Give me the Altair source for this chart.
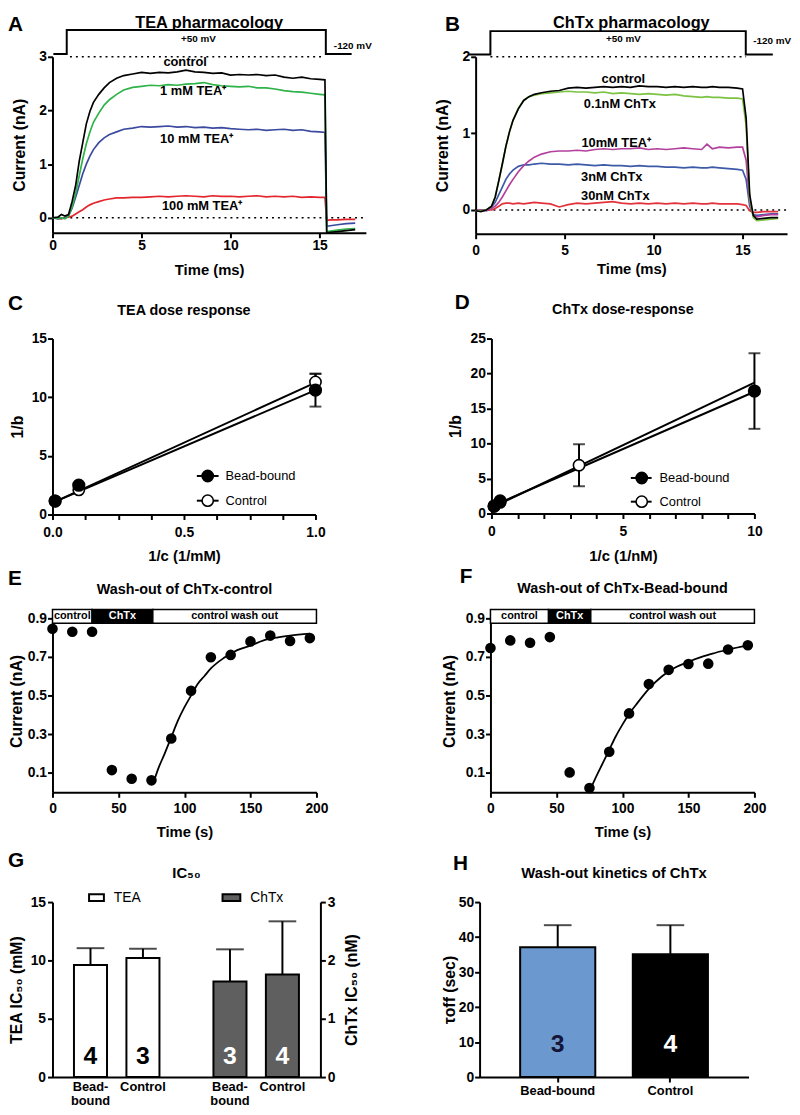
import altair as alt
import pandas as pd

FONT = "Liberation Sans"

# ---------------- Panel A : TEA pharmacology ----------------
a_time = [0, 0.3, 0.5, 0.7, 0.9, 1.1, 1.3, 1.5, 1.7, 1.9, 2.1, 2.3, 2.6, 2.9, 3.2, 3.6, 4.0, 4.5,
          5.0, 5.5, 6.0, 6.5, 7.0, 7.5, 8.0, 8.5, 9.0, 9.5, 10.0, 10.5, 11.0, 11.5, 12.0, 12.5,
          13.0, 13.5, 14.0, 14.5, 15.0, 15.3, 15.4, 15.6, 16.0, 16.5, 17.0]
a_control = [0.0, 0.01, 0.06, 0.03, 0.06, 0.3, 0.6, 1.05, 1.4, 1.75, 1.98, 2.15, 2.3, 2.42, 2.52,
             2.6, 2.65, 2.68, 2.71, 2.69, 2.71, 2.7, 2.72, 2.75, 2.72, 2.71, 2.69, 2.7, 2.66, 2.67,
             2.66, 2.67, 2.65, 2.66, 2.62, 2.6, 2.62, 2.59, 2.58, 2.57, -0.28, -0.27, -0.26, -0.24, -0.22]
a_tea1 = [0.0, -0.01, 0.0, -0.02, 0.03, 0.2, 0.45, 0.78, 1.1, 1.38, 1.6, 1.78, 1.95, 2.1, 2.2,
          2.3, 2.38, 2.43, 2.45, 2.47, 2.46, 2.48, 2.47, 2.49, 2.5, 2.52, 2.48, 2.46, 2.45, 2.44,
          2.45, 2.42, 2.42, 2.4, 2.37, 2.35, 2.34, 2.32, 2.3, 2.29, -0.26, -0.25, -0.23, -0.21, -0.2]
a_tea10 = [0.0, -0.02, -0.01, -0.01, 0.04, 0.18, 0.38, 0.6, 0.82, 1.0, 1.15, 1.27, 1.4, 1.49, 1.55,
           1.6, 1.65, 1.67, 1.7, 1.69, 1.7, 1.71, 1.69, 1.7, 1.68, 1.69, 1.67, 1.68, 1.66, 1.65,
           1.64, 1.65, 1.63, 1.64, 1.65, 1.63, 1.64, 1.61, 1.6, 1.59, -0.16, -0.15, -0.13, -0.11, -0.1]
a_tea100 = [0.0, -0.01, -0.02, 0.0, 0.01, 0.03, 0.07, 0.11, 0.15, 0.2, 0.24, 0.27, 0.3, 0.33, 0.35,
            0.37, 0.37, 0.38, 0.38, 0.39, 0.4, 0.39, 0.4, 0.41, 0.4, 0.39, 0.41, 0.4, 0.4, 0.39,
            0.4, 0.41, 0.39, 0.4, 0.39, 0.4, 0.38, 0.39, 0.38, 0.38, -0.05, -0.04, -0.04, -0.03, -0.03]
a_names = ["100 mM TEA⁺", "10 mM TEA⁺", "1 mM TEA⁺", "control"]
a_colors = ["#e3262d", "#3b4a9e", "#2fb24a", "#000000"]
a_label_t = [8.4, 8.1, 7.9, 7.45]
a_label_i = [0.21, 1.47, 2.37, 2.9]
a_step_t = [0.05, 0.8, 0.8, 15.35, 15.35, 16.8]
a_step_v = [3.05, 3.05, 3.5, 3.5, 3.05, 3.05]
a_hold_t = [0.98, 15.2]

# ---------------- Panel B : ChTx pharmacology ----------------
b_time = [0, 0.3, 0.6, 0.9, 1.1, 1.3, 1.5, 1.7, 1.9, 2.1, 2.4, 2.7, 3.0, 3.3, 3.7, 4.2, 4.7, 5.2,
          5.7, 6.2, 6.7, 7.2, 7.7, 8.2, 8.7, 9.2, 9.7, 10.2, 10.7, 11.2, 11.7, 12.2, 12.7, 13.0,
          13.3, 13.7, 14.2, 14.7, 15.0, 15.2, 15.4, 15.6, 15.8, 16.2, 16.6, 17.0]
b_control = [-0.01, -0.02, 0.0, 0.05, 0.17, 0.38, 0.6, 0.83, 1.02, 1.17, 1.32, 1.43, 1.48, 1.51,
             1.53, 1.55, 1.56, 1.59, 1.6, 1.59, 1.6, 1.61, 1.6, 1.61, 1.6, 1.62, 1.61, 1.61, 1.6,
             1.61, 1.6, 1.61, 1.6, 1.6, 1.61, 1.6, 1.6, 1.59, 1.58, 1.2, 0.2, -0.07, -0.12, -0.11,
             -0.1, -0.1]
b_chtx01 = [-0.01, -0.01, 0.0, 0.05, 0.17, 0.38, 0.6, 0.83, 1.02, 1.17, 1.33, 1.43, 1.48, 1.5,
            1.52, 1.53, 1.54, 1.55, 1.54, 1.54, 1.53, 1.54, 1.52, 1.53, 1.52, 1.51, 1.52, 1.51,
            1.5, 1.51, 1.49, 1.48, 1.47, 1.48, 1.47, 1.47, 1.46, 1.46, 1.45, 1.1, 0.15, -0.1,
            -0.14, -0.13, -0.12, -0.11]
b_tea10 = [-0.01, 0.0, -0.01, 0.02, 0.05, 0.1, 0.17, 0.25, 0.33, 0.4, 0.5, 0.58, 0.64, 0.69,
           0.73, 0.76, 0.77, 0.77, 0.78, 0.77, 0.79, 0.8, 0.79, 0.8, 0.8, 0.81, 0.79, 0.8, 0.79,
           0.8, 0.81, 0.8, 0.79, 0.86, 0.8, 0.82, 0.81, 0.82, 0.82, 0.65, 0.1, -0.07, -0.09,
           -0.07, -0.06, -0.06]
b_chtx3 = [-0.01, 0.0, 0.0, 0.04, 0.1, 0.2, 0.3, 0.4, 0.47, 0.52, 0.57, 0.59, 0.59, 0.6, 0.61,
           0.6, 0.6, 0.59, 0.6, 0.59, 0.58, 0.59, 0.58, 0.58, 0.57, 0.58, 0.57, 0.57, 0.56, 0.56,
           0.55, 0.56, 0.55, 0.55, 0.56, 0.55, 0.54, 0.53, 0.52, 0.4, 0.05, -0.06, -0.07, -0.06,
           -0.05, -0.05]
b_chtx30 = [-0.01, 0.0, 0.0, 0.0, 0.02, 0.05, 0.08, 0.09, 0.09, 0.08, 0.09, 0.08, 0.09, 0.1,
            0.09, 0.08, 0.04, 0.07, 0.09, 0.08, 0.09, 0.1, 0.11, 0.09, 0.08, 0.09, 0.08, 0.09,
            0.08, 0.09, 0.08, 0.09, 0.08, 0.08, 0.09, 0.08, 0.08, 0.08, 0.07, 0.06, -0.01, -0.03,
            -0.03, -0.02, -0.02, -0.02]
b_names = ["30nM ChTx", "3nM ChTx", "10mM TEA⁺", "0.1nM ChTx", "control"]
b_colors = ["#e2323c", "#3d5aa8", "#b2409c", "#7cc243", "#000000"]
b_label_t = [7.85, 7.65, 7.9, 8.1, 8.3]
b_label_i = [0.18, 0.43, 0.88, 1.38, 1.71]
b_step_t = [-0.37, 0.83, 0.83, 15.18, 15.18, 16.7]
b_step_v = [2.03, 2.03, 2.335, 2.335, 2.03, 2.03]
b_hold_t = [0.83, 15.2]

# ---------------- Panel C : TEA dose response ----------------
c_x = [0.01, 0.1, 1.0]
c_bead = [1.15, 2.5, 10.6]
c_bead_err = [0.0, 0.0, 1.4]
c_ctrl = [1.15, 2.1, 11.3]
c_ctrl_err = [0.0, 0.0, 0.7]
c_fit_x = [0.01, 1.0]
c_fit_bead = [1.1, 10.6]
c_fit_ctrl = [1.1, 11.25]

# ---------------- Panel D : ChTx dose-response ----------------
d_x_bead = [0.1, 0.33, 10.0]
d_bead = [1.1, 1.8, 17.5]
d_bead_err = [0.0, 0.0, 5.4]
d_x_ctrl = [0.1, 0.33, 3.33]
d_ctrl = [1.0, 1.6, 6.9]
d_ctrl_err = [0.0, 0.0, 3.0]
d_fit_x = [0.1, 10.0]
d_fit_bead = [1.2, 17.4]
d_fit_ctrl = [1.0, 18.7]

# ---------------- Panel E/F : wash-out ----------------
w_time = [0, 15, 30, 45, 60, 75, 90, 105, 120, 135, 150, 165, 180, 195]
e_curr = [0.845, 0.83, 0.83, 0.115, 0.07, 0.062, 0.278, 0.525, 0.698, 0.71, 0.78, 0.81, 0.782, 0.797]
e_fit_t = [77, 80, 85, 90, 95, 100, 105, 110, 115, 120, 130, 140, 150, 160, 170, 180, 195]
e_fit_v = [0.06, 0.12, 0.2, 0.285, 0.37, 0.44, 0.5, 0.56, 0.6, 0.64, 0.695, 0.735, 0.758, 0.785, 0.8, 0.81, 0.82]
e_phase_start = [0, 30, 76]
e_phase_end = [30, 76, 200]
f_curr = [0.746, 0.785, 0.773, 0.802, 0.103, 0.022, 0.21, 0.408, 0.56, 0.633, 0.663, 0.665, 0.738, 0.76]
f_fit_t = [76, 80, 85, 90, 95, 100, 105, 110, 120, 130, 140, 150, 160, 170, 180, 195]
f_fit_v = [0.02, 0.08, 0.15, 0.22, 0.29, 0.35, 0.405, 0.45, 0.535, 0.6, 0.645, 0.675, 0.7, 0.72, 0.738, 0.758]
f_phase_start = [0, 44, 76]
f_phase_end = [44, 76, 200]
phase_labels = ["control", "ChTx", "control wash out"]
phase_fill = ["white", "black", "white"]
phase_text = ["black", "white", "black"]

# ---------------- Panel G : IC50 ----------------
g_conds = ["Bead-bound", "Control"]
g_xlabels = ["Bead-\nbound", "Control"]
g_tea_mean = [9.6, 10.2]
g_tea_err = [1.45, 0.8]
g_tea_n = [4, 3]
g_chtx_mean = [1.64, 1.76]
g_chtx_err = [0.55, 0.91]
g_chtx_n = [3, 4]

# ---------------- Panel H : wash-out kinetics ----------------
h_conds = ["Bead-bound", "Control"]
h_mean = [37.1, 35.1]
h_err = [6.3, 8.3]
h_n = [3, 4]
h_colors = ["#6a98cf", "#000000"]
h_ncolors = ["#15153a", "#ffffff"]


# ======================= helpers =======================
def one():
    return alt.Data(values=[{"k": 0}])


def txt(s, x, y, size, weight="bold", align="center", baseline="middle", color="black"):
    return alt.Chart(one()).mark_text(
        text=s, font=FONT, fontSize=size, fontWeight=weight, align=align,
        baseline=baseline, color=color).encode(x=alt.value(x), y=alt.value(y))


LET_X = -45


def letter(ch, y):
    return txt(ch, LET_X, y, 21, align="left")


def xaxis(values, title, w, ty, lp, label_expr=None, fmt=None):
    d = dict(values=values, title=title, titleX=w / 2, titleY=ty, titleAlign="center",
             titleBaseline="middle", titleFontSize=15, labelFlush=False, labelOverlap=False,
             labelPadding=lp)
    if label_expr:
        d["labelExpr"] = label_expr
    if fmt:
        d["format"] = fmt
    return alt.Axis(**d)


def yaxis(values, title, h, tx, lp=1, fmt=None, orient="left"):
    d = dict(values=values, title=title, titleX=tx, titleY=h / 2, titleAngle=270,
             titleAlign="center", titleBaseline="middle", titleFontSize=16, labelFlush=False,
             labelOverlap=False, labelPadding=lp, orient=orient)
    if fmt:
        d["format"] = fmt
    return alt.Axis(**d)


def traces_panel(time, series, names, colors, lab_t, lab_i, step_t, step_v, hold_t,
                 xs, ys, ax, ay, hold_v):
    X = lambda f: alt.X(f, scale=xs, axis=ax)
    Y = lambda f: alt.Y(f, scale=ys, axis=ay)
    layers = []
    zero = pd.DataFrame({"t": [0.0], "t2": [xs.domain[1]], "v": [0.0]})
    layers.append(alt.Chart(zero).mark_rule(color="black", strokeWidth=1.6, strokeDash=[2, 4])
                  .encode(x=X("t:Q"), x2="t2:Q", y=Y("v:Q")))
    hold = pd.DataFrame({"t": [hold_t[0]], "t2": [hold_t[1]], "v": [hold_v]})
    layers.append(alt.Chart(hold).mark_rule(color="black", strokeWidth=1.6, strokeDash=[2, 4])
                  .encode(x=X("t:Q"), x2="t2:Q", y=Y("v:Q")))
    step = pd.DataFrame({"t": step_t, "v": step_v, "k": list(range(len(step_t)))})
    layers.append(alt.Chart(step).mark_line(color="black", strokeWidth=2)
                  .encode(x=X("t:Q"), y=Y("v:Q"), order="k:Q"))
    for name, col, vals in zip(names, colors, series):
        df = pd.DataFrame({"t": time, "v": vals})
        layers.append(alt.Chart(df).mark_line(color=col, strokeWidth=1.7)
                      .encode(x=X("t:Q"), y=Y("v:Q")))
    lab = pd.DataFrame({"t": lab_t, "v": lab_i, "name": names})
    layers.append(alt.Chart(lab).mark_text(font=FONT, fontSize=13, fontWeight="bold", color="black")
                  .encode(x=X("t:Q"), y=Y("v:Q"), text="name:N"))
    return layers


def step_labels(xs, ys, ax, ay, t, v):
    df = pd.DataFrame({"t": t, "v": v, "s": ["+50 mV", "-120 mV"]})
    X = alt.X("t:Q", scale=xs, axis=ax)
    Y = alt.Y("v:Q", scale=ys, axis=ay)
    return [
        alt.Chart(df).transform_filter("datum.s == '+50 mV'")
        .mark_text(font=FONT, fontSize=10, fontWeight="bold").encode(x=X, y=Y, text="s:N"),
        alt.Chart(df).transform_filter("datum.s == '-120 mV'")
        .mark_text(font=FONT, fontSize=10, fontWeight="bold", align="left").encode(x=X, y=Y, text="s:N"),
    ]


# ======================= Panel A =======================
WA, HA = 317, 178
xsA = alt.Scale(domain=[0, 17.6], nice=False, zero=False)
ysA = alt.Scale(domain=[-0.28, 3], nice=False, zero=False)
axA = xaxis([0, 5, 10, 15], "Time (ms)", WA, 37, 1)
ayA = yaxis([0, 1, 2, 3], "Current (nA)", HA, -33)
A_layers = traces_panel(a_time, [a_tea100, a_tea10, a_tea1, a_control], a_names, a_colors,
                        a_label_t, a_label_i, a_step_t, a_step_v, a_hold_t, xsA, ysA, axA, ayA, 3.0)
A_layers += step_labels(xsA, ysA, axA, ayA, [8.2, 15.8], [3.33, 3.2])
A_layers += [letter("A", -32), txt("TEA pharmacology", WA / 2, -34, 16.5)]
panelA = alt.layer(*A_layers).properties(width=WA, height=HA)

# ======================= Panel B =======================
WB, HB = 315, 179
xsB = alt.Scale(domain=[0, 17.5], nice=False, zero=False)
ysB = alt.Scale(domain=[-0.31, 2], nice=False, zero=False)
axB = xaxis([0, 5, 10, 15], "Time (ms)", WB, 35, 5)
ayB = yaxis([0, 1, 2], "Current (nA)", HB, -33)
B_layers = traces_panel(b_time, [b_chtx30, b_chtx3, b_tea10, b_chtx01, b_control], b_names, b_colors,
                        b_label_t, b_label_i, b_step_t, b_step_v, b_hold_t, xsB, ysB, axB, ayB, 2.0)
B_layers += step_labels(xsB, ysB, axB, ayB, [8.3, 15.6], [2.23, 2.2])
B_layers += [txt("B", -31, -32, 21, align="left"), txt("ChTx pharmacology", WB / 2, -34, 16.5)]
panelB = alt.layer(*B_layers).properties(width=WB, height=HB)


# ======================= dose-response helper =======================
def dose_panel(xb, yb, eb, xc, yc, ec, fx, fb, fc, xs, ys, ax, ay, leg):
    X = lambda f: alt.X(f, scale=xs, axis=ax)
    Y = lambda f: alt.Y(f, scale=ys, axis=ay)
    L = []
    fit = pd.DataFrame({"x": fx * 2, "y": fb + fc, "g": ["b", "b", "c", "c"]})
    L.append(alt.Chart(fit).mark_line(color="black", strokeWidth=2)
             .encode(x=X("x:Q"), y=Y("y:Q"), detail="g:N"))
    err = pd.DataFrame({"x": xb + xc, "y": yb + yc, "e": eb + ec})
    err = err[err["e"] > 0]
    L.append(alt.Chart(err).transform_calculate(lo="datum.y - datum.e", hi="datum.y + datum.e")
             .mark_rule(color="black", strokeWidth=2)
             .encode(x=X("x:Q"), y=Y("lo:Q"), y2="hi:Q"))
    for fld in ["lo", "hi"]:
        L.append(alt.Chart(err).transform_calculate(lo="datum.y - datum.e", hi="datum.y + datum.e")
                 .mark_tick(color="black", orient="horizontal", size=12, thickness=2)
                 .encode(x=X("x:Q"), y=Y(fld + ":Q")))
    L.append(alt.Chart(pd.DataFrame({"x": xc, "y": yc})).mark_point(
        shape="circle", size=130, fill="white", filled=True, stroke="black", strokeWidth=1.6, opacity=1)
        .encode(x=X("x:Q"), y=Y("y:Q")))
    L.append(alt.Chart(pd.DataFrame({"x": xb, "y": yb})).mark_point(
        shape="circle", size=130, fill="black", filled=True, stroke="black", opacity=1)
        .encode(x=X("x:Q"), y=Y("y:Q")))
    cx, x0, x1, tx, yb_, yc_ = leg
    for yy, filled, lab in [(yb_, True, "Bead-bound"), (yc_, False, "Control")]:
        L.append(alt.Chart(one()).mark_rule(color="black", strokeWidth=2)
                 .encode(x=alt.value(x0), x2=alt.value(x1), y=alt.value(yy)))
        L.append(alt.Chart(one()).mark_point(shape="circle", size=130, filled=True,
                                             fill="black" if filled else "white", stroke="black",
                                             strokeWidth=1.6, opacity=1)
                 .encode(x=alt.value(cx), y=alt.value(yy)))
        L.append(txt(lab, tx, yy, 13, weight="normal", align="left"))
    return L


# ======================= Panel C =======================
WC, HC = 266, 178
xsC = alt.Scale(domain=[0, 1], nice=False, zero=False)
ysC = alt.Scale(domain=[0, 15], nice=False, zero=False)
c_ticks = [0, 0.125, 0.25, 0.375, 0.5, 0.625, 0.75, 0.875, 1.0]
axC = xaxis(c_ticks, "1/c (1/mM)", WC, 42, 6,
            label_expr="(datum.value * 2) % 1 === 0 ? format(datum.value, '.1f') : ''")
ayC = yaxis([0, 5, 10, 15], "1/b", HC, -35)
C_layers = dose_panel(c_x, c_bead, c_bead_err, c_x, c_ctrl, c_ctrl_err, c_fit_x, c_fit_bead,
                      c_fit_ctrl, xsC, ysC, axC, ayC, (157, 146, 168, 175, 139, 164))
C_layers += [letter("C", -34.5), txt("TEA dose response", WC / 2, -27.5, 14.5)]
panelC = alt.layer(*C_layers).properties(width=WC, height=HC)

# ======================= Panel D =======================
WD, HD = 266, 177
xsD = alt.Scale(domain=[0, 10], nice=False, zero=False)
ysD = alt.Scale(domain=[0, 25], nice=False, zero=False)
axD = xaxis(list(range(11)), "1/c (1/nM)", WD, 42, 6,
            label_expr="datum.value % 5 === 0 ? datum.label : ''")
ayD = yaxis([0, 5, 10, 15, 20, 25], "1/b", HD, -36)
D_layers = dose_panel(d_x_bead, d_bead, d_bead_err, d_x_ctrl, d_ctrl, d_ctrl_err, d_fit_x,
                      d_fit_bead, d_fit_ctrl, xsD, ysD, axD, ayD, (152, 141, 162, 170, 141, 165))
D_layers += [txt("D", -37, -35.5, 21, align="left"), txt("ChTx dose-response", WD / 2, -28.5, 14.5)]
panelD = alt.layer(*D_layers).properties(width=WD, height=HD)


# ======================= wash-out helper =======================
def wash_panel(curr, fit_t, fit_v, p0, p1, ax, ay, xs, ys):
    X = lambda f: alt.X(f, scale=xs, axis=ax)
    Y = lambda f: alt.Y(f, scale=ys, axis=ay)
    L = []
    ph = pd.DataFrame({"s": p0, "e": p1, "lab": phase_labels, "fill": phase_fill, "tc": phase_text})
    L.append(alt.Chart(ph).mark_rect(stroke="black", strokeWidth=1.5)
             .encode(x=X("s:Q"), x2="e:Q", y=alt.value(0), y2=alt.value(14),
                     fill=alt.Fill("fill:N", scale=None)))
    L.append(alt.Chart(ph).transform_calculate(m="(datum.s + datum.e) / 2")
             .mark_text(font=FONT, fontSize=11, fontWeight="bold")
             .encode(x=X("m:Q"), y=alt.value(7), text="lab:N", color=alt.Color("tc:N", scale=None)))
    L.append(alt.Chart(pd.DataFrame({"t": fit_t, "v": fit_v})).mark_line(
        color="black", strokeWidth=1.8, interpolate="monotone").encode(x=X("t:Q"), y=Y("v:Q")))
    L.append(alt.Chart(pd.DataFrame({"t": w_time, "v": curr})).mark_circle(
        size=115, color="black", opacity=1).encode(x=X("t:Q"), y=Y("v:Q")))
    return L


# ======================= Panel E =======================
WE, HE = 267, 185
xsE = alt.Scale(domain=[0, 200], nice=False, zero=False)
ysE = alt.Scale(domain=[0, 0.945], nice=False, zero=False)
axE = xaxis([0, 50, 100, 150, 200], "Time (s)", WE, 39.5, 4)
ayE = yaxis([0.1, 0.3, 0.5, 0.7, 0.9], "Current (nA)", HE, -36, fmt=".1f")
E_layers = wash_panel(e_curr, e_fit_t, e_fit_v, e_phase_start, e_phase_end, axE, ayE, xsE, ysE)
E_layers += [letter("E", -31), txt("Wash-out of ChTx-control", WE / 2, -19.5, 14.5)]
panelE = alt.layer(*E_layers).properties(width=WE, height=HE)

# ======================= Panel F =======================
WF, HF = 267, 185
xsF = alt.Scale(domain=[0, 200], nice=False, zero=False)
ysF = alt.Scale(domain=[0, 0.945], nice=False, zero=False)
axF = xaxis([0, 50, 100, 150, 200], "Time (s)", WF, 39.5, 4)
ayF = yaxis([0.1, 0.3, 0.5, 0.7, 0.9], "Current (nA)", HF, -41, fmt=".1f")
F_layers = wash_panel(f_curr, f_fit_t, f_fit_v, f_phase_start, f_phase_end, axF, ayF, xsF, ysF)
F_layers += [txt("F", -31, -33, 21, align="left"), txt("Wash-out of ChTx-Bead-bound", WF / 2, -21, 14.5)]
panelF = alt.layer(*F_layers).properties(width=WF, height=HF)

# ======================= Panel G =======================
WG, HG = 271, 177
gx = alt.X("group:N", scale=alt.Scale(domain=["TEA", "ChTx"], paddingInner=0.387, paddingOuter=0.154),
           axis=alt.Axis(title=None, labels=False, ticks=False, domain=True))
gxo = alt.XOffset("cond:N", scale=alt.Scale(domain=g_conds, paddingInner=0.37, paddingOuter=0))


def g_group(name, mean, err, n, dom, ticks, title, tx, orient, fill, ncol):
    df = pd.DataFrame({"group": name, "cond": g_conds, "v": mean, "e": err, "n": n, "lab": g_xlabels})
    ay = yaxis(ticks, title, HG, tx, orient=orient, lp=2)
    ysc = alt.Scale(domain=dom, nice=False, zero=True)
    Y = lambda f: alt.Y(f, scale=ysc, axis=ay)
    base = alt.Chart(df).transform_calculate(top="datum.v + datum.e")
    return alt.layer(
        base.mark_rule(color="black", strokeWidth=2).encode(x=gx, xOffset=gxo, y=Y("v:Q"), y2="top:Q"),
        base.mark_tick(color="black", orient="horizontal", size=28, thickness=2)
            .encode(x=gx, xOffset=gxo, y=Y("top:Q")),
        base.mark_bar(fill=fill, stroke="black", strokeWidth=2).encode(x=gx, xOffset=gxo, y=Y("v:Q")),
        base.mark_text(font=FONT, fontSize=25, fontWeight="bold", color=ncol)
            .encode(x=gx, xOffset=gxo, y=alt.value(156), text="n:N"),
        base.mark_text(font=FONT, fontSize=13, fontWeight="bold", color="black", lineBreak="\n",
                       lineHeight=14, baseline="top")
            .encode(x=gx, xOffset=gxo, y=alt.value(HG + 4), text="lab:N"),
    )


G_tea = g_group("TEA", g_tea_mean, g_tea_err, g_tea_n, [0, 15], [0, 5, 10, 15], "TEA IC₅₀ (mM)",
                -36, "left", "white", "black")
G_chtx = g_group("ChTx", g_chtx_mean, g_chtx_err, g_chtx_n, [0, 3], [0, 1, 2, 3], "ChTx IC₅₀ (nM)",
                 32, "right", "#5f5f5f", "white")
G_deco = [
    alt.Chart(one()).mark_rect(fill="white", stroke="black", strokeWidth=2)
    .encode(x=alt.value(37), x2=alt.value(52), y=alt.value(-8), y2=alt.value(-1)),
    txt("TEA", 62, -4, 14, weight="normal", align="left"),
    alt.Chart(one()).mark_rect(fill="#5f5f5f", stroke="black", strokeWidth=2)
    .encode(x=alt.value(172), x2=alt.value(190), y=alt.value(-8), y2=alt.value(-1)),
    txt("ChTx", 200, -4, 14, weight="normal", align="left"),
    letter("G", -41),
    txt("IC₅₀", WG / 2, -29, 15),
]
panelG = alt.layer(G_tea, G_chtx, *G_deco).resolve_scale(y="independent").properties(width=WG, height=HG)

# ======================= Panel H =======================
WH, HH = 272, 177
hdf = pd.DataFrame({"cond": h_conds, "v": h_mean, "e": h_err, "n": [str(v) for v in h_n]})
hx = alt.X("cond:N", scale=alt.Scale(domain=h_conds, paddingInner=0.333, paddingOuter=0.36),
           axis=alt.Axis(title=None, labelAngle=0, labelFontSize=13, labelPadding=3, ticks=True))
hy_ax = yaxis([0, 10, 20, 30, 40, 50], "τoff (sec)", HH, -30)
hys = alt.Scale(domain=[0, 50], nice=False)
HY = lambda f: alt.Y(f, scale=hys, axis=hy_ax)
hbase = alt.Chart(hdf).transform_calculate(top="datum.v + datum.e")
panelH = alt.layer(
    hbase.mark_rule(color="black", strokeWidth=2).encode(x=hx, y=HY("v:Q"), y2="top:Q"),
    hbase.mark_tick(color="black", orient="horizontal", size=28, thickness=2).encode(x=hx, y=HY("top:Q")),
    hbase.mark_bar(stroke="black", strokeWidth=2).encode(
        x=hx, y=HY("v:Q"), fill=alt.Fill("cond:N", scale=alt.Scale(domain=h_conds, range=h_colors), legend=None)),
    hbase.mark_text(font=FONT, fontSize=25, fontWeight="bold").encode(
        x=hx, y=alt.value(144), text="n:N",
        color=alt.Color("cond:N", scale=alt.Scale(domain=h_conds, range=h_ncolors), legend=None)),
    txt("H", -27, -38.5, 21, align="left"),
    txt("Wash-out kinetics of ChTx", WH / 2, -29, 15),
).resolve_scale(color="independent", fill="independent").properties(width=WH, height=HH)

# ======================= assemble =======================
row1 = alt.hconcat(panelA, panelB, spacing=111, bounds="flush")
row2 = alt.hconcat(panelC, panelD, spacing=124)
row3 = alt.hconcat(panelE, panelF, spacing=115)
row4 = alt.hconcat(panelG, panelH, spacing=83)
top = alt.vconcat(row1, row2, spacing=15)
bottom = alt.vconcat(row3, row4, spacing=11)
chart = alt.vconcat(top, bottom, spacing=2).properties(padding=0).configure_view(stroke=None).configure_axis(
    domainColor="black", domainWidth=2, tickColor="black", tickWidth=2, tickSize=5,
    labelColor="black", labelFont=FONT, labelFontSize=14, labelFontWeight="bold",
    titleColor="black", titleFont=FONT, titleFontWeight="bold", grid=False,
)

chart.save("out.html", embed_options={"renderer": "svg", "actions": False})
